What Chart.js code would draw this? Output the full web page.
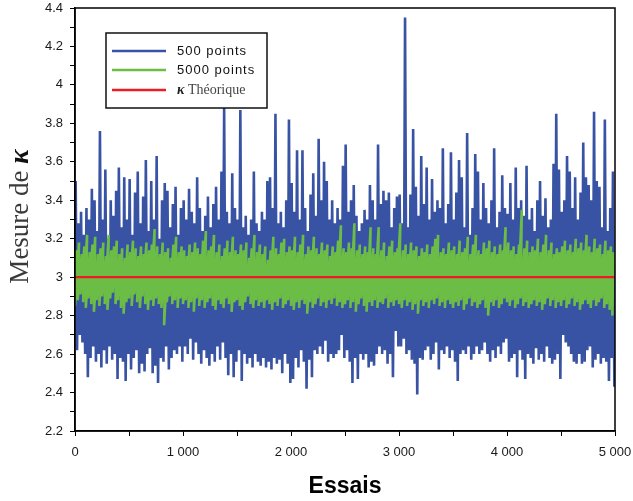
<!DOCTYPE html>
<html lang="fr">
<head>
    <meta charset="UTF-8">
    <title>Mesure de kappa</title>
    <script src="https://cdn.jsdelivr.net/npm/chart.js"></script>
    <style>
body {
    margin: 0;
    padding: 0;
    background-color: #fff;
}

.chart-container {
    position: relative;
    width: 633px;
    height: 501px;
}
    </style>
</head>
<body>
    <div class="chart-container">
        <canvas id="kappaChart"></canvas>
    </div>

    <script>
        // Each bin covers 25 trials: highest and lowest value read in that bin
        const trialsPerBin = 25;
        const totalTrials = 5000;
        const kappaTheo = 3;

        const blueHigh = [
            3.50, 3.28, 3.34, 3.22, 3.36, 3.30, 3.46, 3.40, 3.24, 3.76,
            3.30, 3.56, 3.20, 3.40, 3.32, 3.45, 3.57, 3.26, 3.52, 3.30,
            3.51, 3.22, 3.44, 3.55, 3.28, 3.42, 3.61, 3.24, 3.50, 3.30,
            3.63, 3.20, 3.40, 3.49, 3.45, 3.26, 3.38, 3.47, 3.22, 3.36,
            3.40, 3.30, 3.46, 3.34, 3.28, 3.52, 3.36, 3.24, 3.32, 3.42,
            3.26, 3.38, 3.47, 3.30, 3.55, 3.88, 3.34, 3.28, 3.54, 3.36,
            3.30, 3.87, 3.26, 3.32, 3.22, 3.30, 3.55, 3.28, 3.24, 3.34,
            3.30, 3.50, 3.52, 3.36, 3.85, 3.28, 3.34, 3.26, 3.40, 3.82,
            3.49, 3.34, 3.66, 3.30, 3.66, 3.36, 3.24, 3.43, 3.54, 3.32,
            3.72, 3.40, 3.60, 3.50, 3.30, 3.40, 3.28, 3.36, 3.30, 3.58,
            3.69, 3.34, 3.40, 3.48, 3.32, 3.24, 3.28, 3.35, 3.30, 3.48,
            3.40, 3.30, 3.69, 3.38, 3.45, 3.40, 3.44, 3.26, 3.36, 3.42,
            3.43, 3.28, 4.35, 3.26, 3.43, 3.77, 3.47, 3.32, 3.63, 3.38,
            3.57, 3.30, 3.51, 3.34, 3.40, 3.36, 3.67, 3.28, 3.38, 3.65,
            3.30, 3.44, 3.61, 3.52, 3.26, 3.75, 3.22, 3.36, 3.64, 3.55,
            3.30, 3.49, 3.36, 3.28, 3.40, 3.67, 3.26, 3.34, 3.53, 3.36,
            3.33, 3.49, 3.30, 3.57, 3.36, 3.40, 3.32, 3.58, 3.30, 3.36,
            3.24, 3.40, 3.50, 3.32, 3.41, 3.26, 3.30, 3.59, 3.85, 3.56,
            3.34, 3.40, 3.63, 3.55, 3.36, 3.52, 3.30, 3.44, 3.70, 3.52,
            3.48, 3.40, 3.86, 3.50, 3.47, 3.26, 3.82, 3.24, 3.36, 3.55
        ];
        const blueLow = [
            2.62, 2.70, 2.66, 2.60, 2.48, 2.58, 2.64, 2.56, 2.60, 2.53,
            2.62, 2.55, 2.64, 2.57, 2.60, 2.47, 2.58, 2.56, 2.46, 2.60,
            2.52, 2.58, 2.62, 2.50, 2.55, 2.51, 2.60, 2.63, 2.50, 2.54,
            2.45, 2.58, 2.56, 2.64, 2.52, 2.58, 2.62, 2.60, 2.64, 2.56,
            2.64, 2.60, 2.68, 2.57, 2.66, 2.60, 2.55, 2.62, 2.58, 2.54,
            2.60, 2.56, 2.64, 2.57, 2.66, 2.58, 2.49, 2.60, 2.48, 2.56,
            2.62, 2.46, 2.60, 2.55, 2.58, 2.53, 2.60, 2.56, 2.54, 2.58,
            2.53, 2.56, 2.52, 2.58, 2.55, 2.57, 2.50, 2.60, 2.55, 2.45,
            2.47, 2.58, 2.53, 2.62, 2.56, 2.42, 2.57, 2.48, 2.62, 2.60,
            2.64, 2.60, 2.67, 2.56, 2.60, 2.58, 2.60, 2.62, 2.70, 2.58,
            2.62, 2.56, 2.45, 2.58, 2.47, 2.60, 2.57, 2.60, 2.53, 2.56,
            2.54, 2.60, 2.64, 2.60, 2.62, 2.55, 2.60, 2.48, 2.72, 2.64,
            2.64, 2.68, 2.60, 2.62, 2.57, 2.55, 2.39, 2.58, 2.57, 2.62,
            2.64, 2.57, 2.60, 2.66, 2.52, 2.62, 2.60, 2.64, 2.58, 2.62,
            2.56, 2.46, 2.60, 2.62, 2.60, 2.64, 2.57, 2.60, 2.64, 2.60,
            2.62, 2.66, 2.60, 2.56, 2.62, 2.58, 2.64, 2.60, 2.66, 2.68,
            2.56, 2.58, 2.60, 2.48, 2.62, 2.57, 2.47, 2.60, 2.58, 2.55,
            2.63, 2.57, 2.60, 2.56, 2.64, 2.58, 2.55, 2.57, 2.60, 2.47,
            2.70, 2.66, 2.64, 2.60, 2.56, 2.55, 2.60, 2.55, 2.56, 2.62,
            2.64, 2.53, 2.57, 2.60, 2.55, 2.58, 2.56, 2.46, 2.58, 2.43
        ];
        const greenHigh = [
            3.14, 3.18, 3.12, 3.16, 3.22, 3.13, 3.17, 3.21, 3.12, 3.15,
            3.18, 3.11, 3.22, 3.14, 3.16, 3.19, 3.12, 3.15, 3.10, 3.17,
            3.13, 3.19, 3.15, 3.11, 3.16, 3.12, 3.18, 3.14, 3.17, 3.25,
            3.16, 3.12, 3.18, 3.13, 3.15, 3.10, 3.17, 3.21, 3.13, 3.16,
            3.14, 3.11, 3.17, 3.13, 3.18, 3.15, 3.12, 3.19, 3.24, 3.14,
            3.16, 3.22, 3.13, 3.17, 3.11, 3.15, 3.19, 3.13, 3.21, 3.14,
            3.12, 3.17, 3.14, 3.18, 3.10, 3.15, 3.22, 3.13, 3.17, 3.12,
            3.16, 3.09, 3.14, 3.21, 3.15, 3.12, 3.18, 3.20, 3.13, 3.16,
            3.14, 3.21, 3.13, 3.17, 3.22, 3.12, 3.16, 3.14, 3.21, 3.15,
            3.12, 3.18, 3.14, 3.17, 3.11, 3.16, 3.13, 3.19, 3.27, 3.15,
            3.13, 3.18, 3.15, 3.28, 3.14, 3.17, 3.12, 3.16, 3.13, 3.26,
            3.15, 3.12, 3.26, 3.14, 3.18, 3.11, 3.16, 3.19, 3.13, 3.15,
            3.28, 3.14, 3.17, 3.12, 3.18, 3.14, 3.16, 3.11, 3.15, 3.13,
            3.17, 3.12, 3.16, 3.20, 3.22, 3.13, 3.15, 3.12, 3.18, 3.14,
            3.16, 3.12, 3.19, 3.13, 3.15, 3.21, 3.12, 3.17, 3.22, 3.14,
            3.12, 3.18, 3.15, 3.19, 3.13, 3.16, 3.12, 3.17, 3.14, 3.26,
            3.18, 3.14, 3.16, 3.12, 3.17, 3.35, 3.15, 3.19, 3.13, 3.16,
            3.14, 3.20, 3.13, 3.17, 3.22, 3.14, 3.18, 3.12, 3.15, 3.13,
            3.16, 3.19, 3.14, 3.17, 3.13, 3.20, 3.15, 3.18, 3.14, 3.22,
            3.16, 3.13, 3.20, 3.15, 3.17, 3.12, 3.19, 3.14, 3.16, 3.13
        ];
        const greenLow = [
            2.85, 2.88, 2.91, 2.87, 2.84, 2.89, 2.86, 2.82, 2.88, 2.85,
            2.90, 2.86, 2.83, 2.89, 2.92, 2.86, 2.88, 2.84, 2.81, 2.87,
            2.89, 2.85, 2.91, 2.87, 2.84, 2.90, 2.86, 2.83, 2.88, 2.85,
            2.89, 2.86, 2.84, 2.75, 2.87, 2.90, 2.86, 2.88, 2.84, 2.89,
            2.86, 2.88, 2.84, 2.87, 2.82, 2.89, 2.85, 2.88, 2.84, 2.87,
            2.89, 2.85, 2.83, 2.88, 2.86, 2.84, 2.89, 2.86, 2.82, 2.87,
            2.88, 2.85, 2.83, 2.87, 2.90, 2.86, 2.84, 2.88, 2.85, 2.87,
            2.84, 2.88, 2.86, 2.83, 2.87, 2.85, 2.89, 2.84, 2.86, 2.88,
            2.85, 2.83, 2.87, 2.84, 2.88, 2.86, 2.81, 2.87, 2.84, 2.86,
            2.89, 2.85, 2.87, 2.84, 2.88, 2.86, 2.89, 2.85, 2.87, 2.84,
            2.86, 2.88, 2.84, 2.87, 2.82, 2.86, 2.89, 2.85, 2.82, 2.87,
            2.85, 2.88, 2.84, 2.87, 2.86, 2.89, 2.84, 2.87, 2.85, 2.88,
            2.86, 2.84, 2.88, 2.85, 2.87, 2.83, 2.86, 2.81, 2.88, 2.85,
            2.87, 2.84, 2.88, 2.86, 2.89, 2.85, 2.87, 2.84, 2.88, 2.86,
            2.84, 2.87, 2.85, 2.88, 2.83, 2.86, 2.89, 2.85, 2.87, 2.84,
            2.86, 2.88, 2.84, 2.80, 2.87, 2.85, 2.88, 2.84, 2.86, 2.89,
            2.87, 2.85, 2.88, 2.84, 2.86, 2.89, 2.85, 2.87, 2.84, 2.86,
            2.88, 2.85, 2.87, 2.83, 2.86, 2.89, 2.85, 2.88, 2.84, 2.87,
            2.85, 2.88, 2.84, 2.86, 2.89, 2.85, 2.87, 2.83, 2.86, 2.88,
            2.86, 2.84, 2.88, 2.85, 2.87, 2.89, 2.84, 2.86, 2.83, 2.80
        ];

        const xTickLabels = ['0', '1 000', '2 000', '3 000', '4 000', '5 000'];
        const yTickLabels = ['2.2', '2.4', '2.6', '2.8', '3', '3.2', '3.4', '3.6', '3.8', '4', '4.2', '4.4'];

        // Turn high/low pairs into a zig-zag trace, one point per half bin
        function zigzag(high, low, hiOffset, loOffset) {
            const points = [];
            for (let i = 0; i < high.length; i++) {
                points.push({ x: i * trialsPerBin + hiOffset, y: high[i] });
                points.push({ x: i * trialsPerBin + loOffset, y: low[i] });
            }
            return points;
        }

        const blueColor = '#3953a4';
        const greenColor = '#6cbd45';
        const redColor = '#ed1c24';

        // Frame around the plot, legend box and the y title with mixed fonts
        const decorPlugin = {
            id: 'decor',
            afterDatasetsDraw(chart) {
                const { ctx, chartArea: a } = chart;
                ctx.save();

                ctx.strokeStyle = '#000';
                ctx.lineWidth = 1.5;
                ctx.strokeRect(a.left, a.top, a.right - a.left, a.bottom - a.top);

                // legend
                const lx = a.left + 31, ly = a.top + 25, lw = 161, lh = 75;
                ctx.fillStyle = '#fff';
                ctx.fillRect(lx, ly, lw, lh);
                ctx.strokeStyle = '#111';
                ctx.lineWidth = 1.5;
                ctx.strokeRect(lx, ly, lw, lh);

                const order = [0, 1, 2];
                const rows = [18, 37, 57];
                order.forEach((di, k) => {
                    const ds = chart.data.datasets[di];
                    const yy = ly + rows[k];
                    ctx.strokeStyle = ds.borderColor;
                    ctx.lineWidth = 2.5;
                    ctx.beginPath();
                    ctx.moveTo(lx + 6, yy);
                    ctx.lineTo(lx + 60, yy);
                    ctx.stroke();

                    ctx.textBaseline = 'middle';
                    ctx.textAlign = 'left';
                    if (ds.label.startsWith('κ')) {
                        ctx.letterSpacing = '0px';
                        ctx.fillStyle = '#222';
                        ctx.font = 'italic bold 14px "Liberation Serif"';
                        ctx.fillText('κ', lx + 71, yy);
                        const kw = ctx.measureText('κ').width;
                        ctx.fillStyle = '#444';
                        ctx.font = '14px "Liberation Serif"';
                        ctx.fillText(ds.label.slice(1), lx + 71 + kw, yy);
                    } else {
                        ctx.fillStyle = '#111';
                        ctx.font = '13px "Liberation Sans"';
                        ctx.letterSpacing = '1px';
                        ctx.fillText(ds.label, lx + 71, yy);
                    }
                });
                ctx.letterSpacing = '0px';

                // y axis title, rotated
                const part1 = 'Mesure de ';
                const part2 = 'κ';
                ctx.translate(28, (a.top + a.bottom) / 2 - 3);
                ctx.rotate(-Math.PI / 2);
                ctx.font = '27px "Liberation Serif"';
                const w1 = ctx.measureText(part1).width;
                ctx.font = 'italic bold 27px "Liberation Serif"';
                const w2 = ctx.measureText(part2).width;
                const start = -(w1 + w2) / 2;
                ctx.textBaseline = 'alphabetic';
                ctx.textAlign = 'left';
                ctx.font = '27px "Liberation Serif"';
                ctx.fillStyle = '#3a3a3a';
                ctx.fillText(part1, start, 0);
                ctx.font = 'italic bold 27px "Liberation Serif"';
                ctx.fillStyle = '#111';
                ctx.fillText(part2, start + w1, 0);

                ctx.restore();
            }
        };

        const ctx = document.getElementById('kappaChart').getContext('2d');
        const kappaChart = new Chart(ctx, {
            type: 'line',
            data: {
                datasets: [
                    {
                        label: '500 points',
                        data: zigzag(blueHigh, blueLow, 6, 19),
                        borderColor: blueColor,
                        borderWidth: 2.6,
                        borderJoinStyle: 'bevel',
                        order: 3
                    },
                    {
                        label: '5000 points',
                        data: zigzag(greenHigh, greenLow, 12, 0),
                        borderColor: greenColor,
                        borderWidth: 2.6,
                        borderJoinStyle: 'bevel',
                        order: 2
                    },
                    {
                        label: 'κ Théorique',
                        data: [{ x: 0, y: kappaTheo }, { x: totalTrials, y: kappaTheo }],
                        borderColor: redColor,
                        borderWidth: 2.2,
                        order: 1
                    }
                ]
            },
            options: {
                responsive: true,
                maintainAspectRatio: false,
                animation: false,
                layout: {
                    padding: { top: 8, right: 18, left: 0, bottom: 0 }
                },
                elements: {
                    point: { radius: 0 },
                    line: { tension: 0 }
                },
                plugins: {
                    legend: { display: false },
                    tooltip: { enabled: false }
                },
                scales: {
                    x: {
                        type: 'linear',
                        min: 0,
                        max: totalTrials,
                        afterFit(scale) {
                            scale.height = 70;
                            scale.paddingLeft = 0;
                            scale.paddingRight = 0;
                        },
                        grid: {
                            drawOnChartArea: false,
                            tickLength: 5,
                            color: '#000'
                        },
                        border: { color: '#000', width: 1.5 },
                        ticks: {
                            stepSize: 500,
                            autoSkip: false,
                            maxRotation: 0,
                            padding: 9,
                            color: '#1a1a1a',
                            font: { family: 'Liberation Sans', size: 13 },
                            callback: (v) => (v % 1000 === 0 ? xTickLabels[v / 1000] : '')
                        },
                        title: {
                            display: true,
                            text: 'Essais',
                            color: '#000',
                            font: { family: 'Liberation Sans', size: 23, weight: 'bold' },
                            padding: { top: 0, bottom: 1 }
                        }
                    },
                    y: {
                        min: 2.2,
                        max: 4.4,
                        afterFit(scale) {
                            scale.width = 75;
                            scale.paddingTop = 0;
                            scale.paddingBottom = 0;
                        },
                        grid: {
                            drawOnChartArea: false,
                            tickLength: 5,
                            color: '#000'
                        },
                        border: { color: '#000', width: 1.5 },
                        ticks: {
                            stepSize: 0.1,
                            maxTicksLimit: 100,
                            autoSkip: false,
                            padding: 7,
                            color: '#1a1a1a',
                            font: { family: 'Liberation Sans', size: 13 },
                            callback: (v) => {
                                const r = Math.round(v * 10);
                                return r % 2 === 0 ? yTickLabels[(r - 22) / 2] : '';
                            }
                        }
                    }
                }
            },
            plugins: [decorPlugin]
        });
    </script>
</body>
</html>
